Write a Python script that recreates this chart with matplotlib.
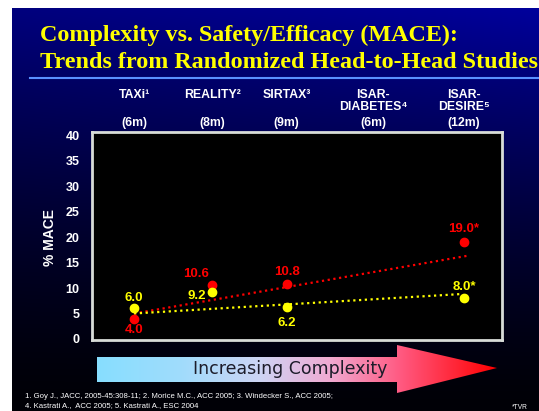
import numpy as np
import matplotlib
matplotlib.use("Agg")
import matplotlib.pyplot as plt
from matplotlib.patches import Polygon
from matplotlib.transforms import blended_transform_factory

# data
studies = ["TAXi¹", "REALITY²", "SIRTAX³", "ISAR-\nDIABETES⁴", "ISAR-\nDESIRE⁵"]
follow_up = ["(6m)", "(8m)", "(9m)", "(6m)", "(12m)"]
red_idx = [0, 1, 2, 4]
red_mace = [4.0, 10.6, 10.8, 19.0]
red_labels = ["4.0", "10.6", "10.8", "19.0*"]
yellow_idx = [0, 1, 2, 4]
yellow_mace = [6.0, 9.2, 6.2, 8.0]
yellow_labels = ["6.0", "9.2", "6.2", "8.0*"]
red_trend = [5.0, 16.4]
yellow_trend = [5.0, 8.8]
yticks = [0, 5, 10, 15, 20, 25, 30, 35, 40]

W, H = 539, 411
col_pos = [0, 0.95, 1.85, 2.9, 4]
SANS = ["Liberation Sans", "DejaVu Sans"]

def fy(py):
    return 1 - py / H

fig = plt.figure(figsize=(W / 100, H / 100), dpi=100, facecolor="white")

# slide background (blue to black)
bg = fig.add_axes([12 / W, 0, 1 - 12 / W, (H - 8) / H])
bg.set_axis_off()
yy, xx = np.mgrid[0:1:200j, 0:1:200j]
blue = 150 * (1 - yy) ** 1.4 * (0.8 + 0.2 * xx) + 6
img = np.zeros((200, 200, 3))
img[..., 2] = np.clip(blue, 0, 255) / 255
bg.imshow(img, aspect="auto", extent=[0, 1, 1, 0])
bg.set_xlim(0, 1)
bg.set_ylim(1, 0)

# overlay in pixel coords for decorations
ov = fig.add_axes([0, 0, 1, 1])
ov.set_xlim(0, W)
ov.set_ylim(H, 0)
ov.set_axis_off()

# title
fig.text(40 / W, fy(35), "Complexity vs. Safety/Efficacy (MACE):", color="#ffff00",
         fontsize=17.4, fontweight="bold", family="Liberation Serif", va="center")
fig.text(40 / W, fy(62), "Trends from Randomized Head-to-Head Studies", color="#ffff00",
         fontsize=17.4, fontweight="bold", family="Liberation Serif", va="center")
ov.plot([30, W], [78, 78], color="#5a90ff", lw=1.5)

# arrow with gradient
arrow_pts = [[97, 357], [397, 357], [397, 345], [497, 368], [397, 393], [397, 382], [97, 382]]
stops_x = [97, 180, 260, 330, 400, 497]
stops_c = np.array([[135, 222, 255], [160, 220, 252], [205, 212, 245],
                    [240, 170, 210], [255, 90, 130], [255, 0, 0]]) / 255
xs = np.linspace(97, 497, 400)
grad = np.stack([np.interp(xs, stops_x, stops_c[:, k]) for k in range(3)], axis=-1)
grad = np.repeat(grad[None, :, :], 2, axis=0)
poly = Polygon(arrow_pts, closed=True, facecolor="none", edgecolor="none")
ov.add_patch(poly)
im = ov.imshow(grad, extent=[97, 497, 393, 345], aspect="auto", zorder=2)
im.set_clip_path(poly)
ov.text(290, 369, "Increasing Complexity", color="#1c1c2a", fontsize=12.5,
        family="DejaVu Sans", ha="center", va="center", zorder=3)

# footnotes
ov.text(25, 396, "1. Goy J., JACC, 2005-45:308-11; 2. Morice M.C., ACC 2005; 3. Windecker S., ACC 2005;",
        color="white", fontsize=5.6, family=SANS, va="center")
ov.text(25, 406, "4. Kastrati A.,  ACC 2005; 5. Kastrati A., ESC 2004",
        color="white", fontsize=5.6, family=SANS, va="center")
ov.text(520, 407, "*TVR", color="white", fontsize=4.8, family=SANS, ha="center", va="center")

# main chart
ax = fig.add_axes([92 / W, 1 - 340 / H, 410 / W, 208 / H])
ax.set_facecolor("black")
ax.set_xlim(-0.51, 4.46)
ax.set_ylim(-0.2, 40.6)
for s in ax.spines.values():
    s.set_color("#d8dcd8")
    s.set_linewidth(2)
ax.set_xticks([])
ax.set_yticks(yticks)
ax.tick_params(axis="y", length=0, pad=9, labelcolor="white", labelsize=9)
for lab in ax.get_yticklabels():
    lab.set_fontweight("bold")
    lab.set_family(SANS)

ax.plot([col_pos[0], 4.07], red_trend, color="#ff0000", lw=1.6, linestyle=(0, (1, 1.6)))
ax.plot([col_pos[0], 3.95], yellow_trend, color="#ffff00", lw=1.6, linestyle=(0, (1, 1.6)))

rx = [col_pos[i] for i in red_idx]
yx = [col_pos[i] for i in yellow_idx]
ax.plot(rx, red_mace, "o", color="#ff0000", ms=6, ls="none", zorder=4)
ax.plot(yx, yellow_mace, "o", color="#ffff00", ms=6, ls="none", zorder=4)

red_off = [(0, -8.5), (-11.5, 8), (0, 8.6), (0, 9.4)]
yellow_off = [(0, 7.5), (-11, -3), (0, -11), (0, 8.4)]
for x, v, t, o in zip(rx, red_mace, red_labels, red_off):
    ax.annotate(t, (x, v), xytext=o, textcoords="offset points", ha="center", va="center",
                color="#ff0000", fontsize=9.5, fontweight="bold", family=SANS)
for x, v, t, o in zip(yx, yellow_mace, yellow_labels, yellow_off):
    ax.annotate(t, (x, v), xytext=o, textcoords="offset points", ha="center", va="center",
                color="#ffff00", fontsize=9.5, fontweight="bold", family=SANS)

# column headers
tr = blended_transform_factory(ax.transData, fig.transFigure)
for x, name, fu in zip(col_pos, studies, follow_up):
    ax.text(x, fy(89), name, transform=tr, ha="center", va="top", color="white",
            fontsize=8.8, fontweight="bold", family=SANS, linespacing=1.0)
    ax.text(x, fy(123), fu, transform=tr, ha="center", va="center", color="white",
            fontsize=8.8, fontweight="bold", family=SANS)

fig.text(50 / W, fy(238), "% MACE", rotation=90, color="white", fontsize=10,
         fontweight="bold", family=SANS, ha="center", va="center")

fig.savefig("out.png", dpi=100, facecolor="white")
